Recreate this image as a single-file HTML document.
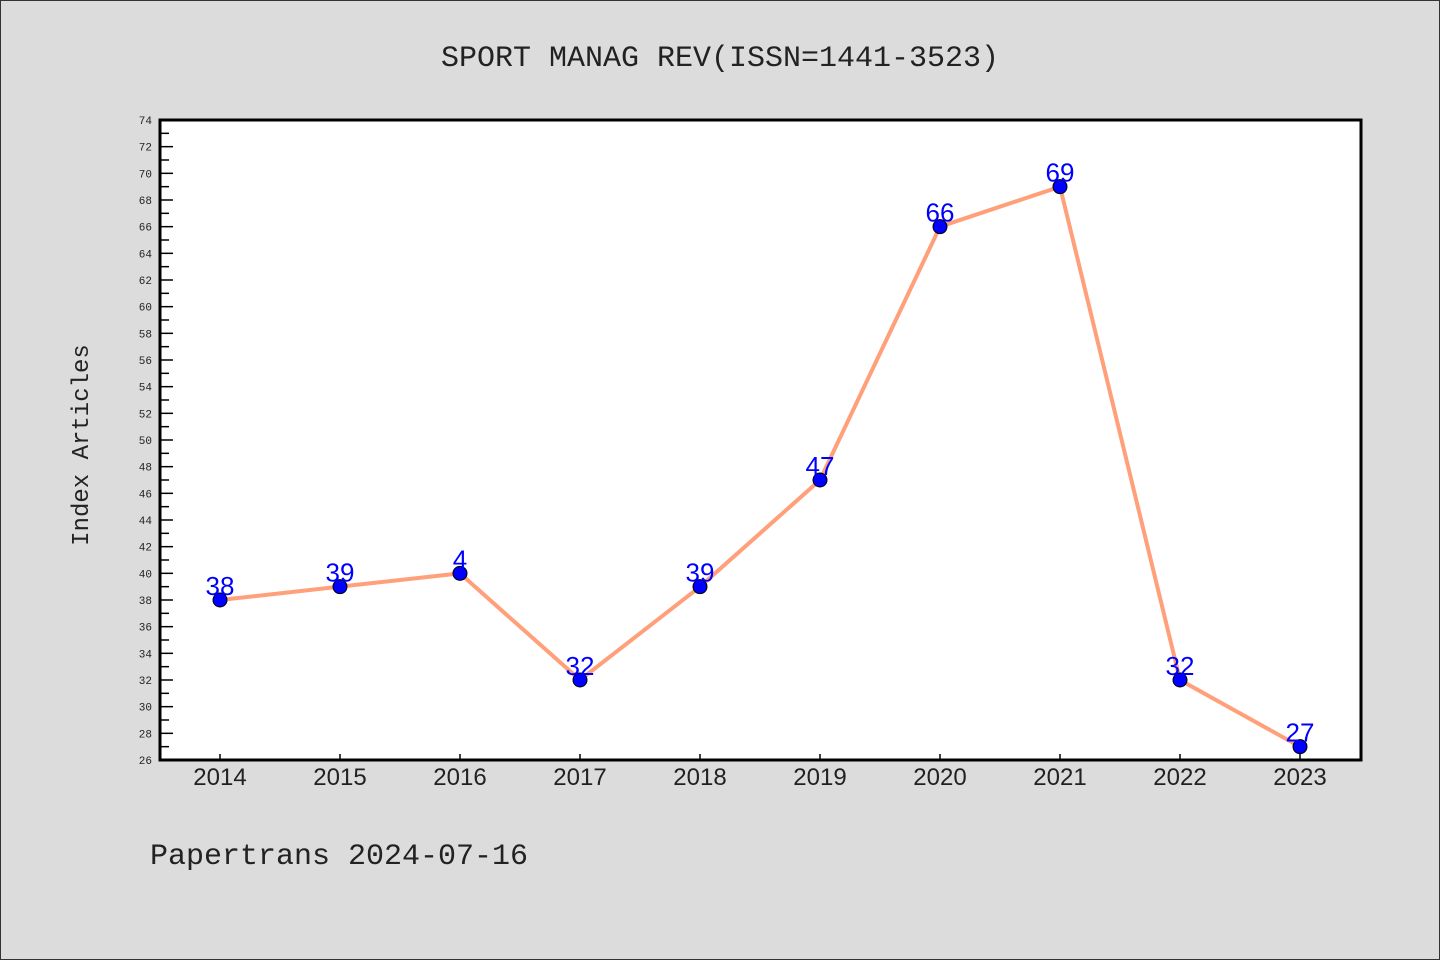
<!DOCTYPE html>
<html><head><meta charset="utf-8"><style>
html,body{margin:0;padding:0;background:#dcdcdc;}
svg{display:block;font-family:"Liberation Mono","DejaVu Sans Mono",monospace;}
</style></head><body>
<svg width="1440" height="960" xmlns="http://www.w3.org/2000/svg">
<rect x="0.5" y="0.5" width="1439" height="959" fill="#dcdcdc" stroke="#333"/>
<text x="720" y="66" text-anchor="middle" font-size="30" fill="#222">SPORT MANAG REV(ISSN=1441-3523)</text>
<rect x="160" y="120" width="1201" height="640" fill="#fff"/>
<g id="yaxis"></g>
<g id="xaxis"></g>
<g id="series"></g>
<rect x="160" y="120" width="1201" height="640" fill="none" stroke="#000" stroke-width="3"/>
<text transform="translate(88,445) rotate(-90)" text-anchor="middle" font-size="24" fill="#222">Index Articles</text>
<text x="150" y="864" font-size="30" fill="#222">Papertrans 2024-07-16</text>
</svg>
<script>
const years=["2014","2015","2016","2017","2018","2019","2020","2021","2022","2023"];
const values=[38,39,40,32,39,47,66,69,32,27];
const labels=["38","39","4","32","39","47","66","69","32","27"];
const yMin=26,yMax=74;
const NS="http://www.w3.org/2000/svg";
function y(v){return 760-(v-yMin)/(yMax-yMin)*640;}
function x(i){return 220+i*120;}
function mk(t,a,p){const e=document.createElementNS(NS,t);for(const k in a)e.setAttribute(k,a[k]);p.appendChild(e);return e;}
const ya=document.getElementById('yaxis');
for(let v=yMin;v<=yMax;v++){
 const major=(v%2===0);
 const l=mk('line',{x1:160,x2:major?173:169,y1:y(v),y2:y(v),stroke:'#000','stroke-width':1.5},ya);
 
 
 if(major){const t=mk('text',{x:152,y:y(v)+4,'text-anchor':'end','font-size':11,fill:'#222'},ya);t.textContent=v;
 
 }
}
const xa=document.getElementById('xaxis');
years.forEach((yr,i)=>{
 const l=mk('line',{x1:x(i),x2:x(i),y1:760,y2:754,stroke:'#000','stroke-width':1.5},xa);
 
 
 const t=mk('text',{x:x(i),y:785,'text-anchor':'middle','font-size':24,fill:'#222','font-family':'Liberation Sans, sans-serif'},xa);t.textContent=yr;
 
 
});
const s=document.getElementById('series');
const pl=mk('polyline',{points:values.map((v,i)=>x(i)+','+y(v)).join(' '),fill:'none',stroke:'#ffa07a','stroke-width':4},s);


values.forEach((v,i)=>{
 const c=mk('circle',{cx:x(i),cy:y(v),r:7,fill:'#0000ff',stroke:'#000','stroke-width':1},s);
 
 
 const t=mk('text',{x:x(i),y:y(v)-5,'text-anchor':'middle','font-size':26,fill:'#0000ff','font-family':'Liberation Sans, sans-serif'},s);t.textContent=labels[i];
 
 
});
</script>
</body></html>
